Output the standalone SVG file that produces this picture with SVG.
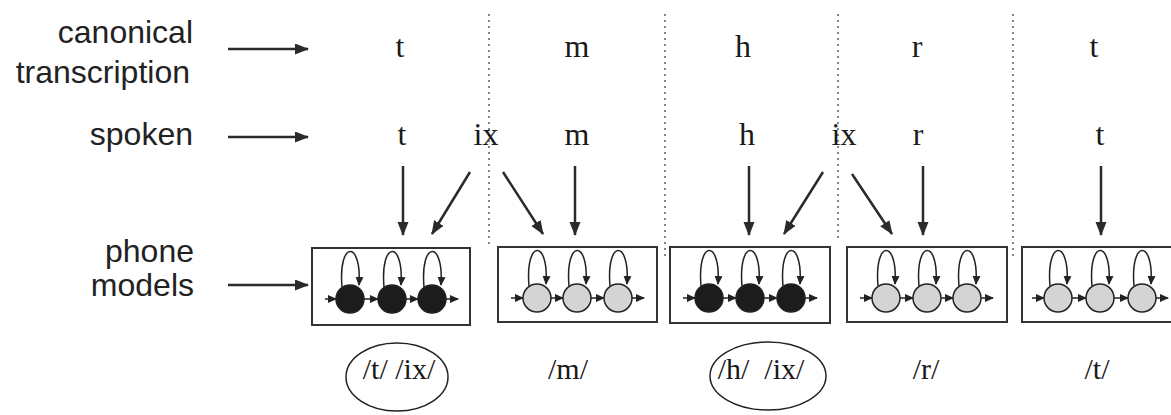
<svg xmlns="http://www.w3.org/2000/svg" width="1171" height="415" viewBox="0 0 1171 415">
<defs>
<style>
.lbl{font-family:"Liberation Sans",Arial,sans-serif;font-size:32px;fill:#222;text-anchor:end}
.ph{font-family:"Liberation Serif","Times New Roman",serif;font-size:32px;fill:#1a1a1a;text-anchor:middle}
.pl{font-family:"Liberation Serif","Times New Roman",serif;font-size:30px;fill:#1a1a1a;text-anchor:middle;white-space:pre}
.arr{stroke:#2a2a2a;stroke-width:2.5;fill:none;marker-end:url(#ah)}
.dot{stroke:#666;stroke-width:1.6;stroke-dasharray:2 4;fill:none}
.box{fill:#fff;stroke:#333;stroke-width:2}
.s{stroke:#222;stroke-width:1.5;fill:none;marker-end:url(#sh)}
.cd{fill:#1c1c1c;stroke:#222;stroke-width:1.5}
.cl{fill:#d4d4d4;stroke:#222;stroke-width:1.5}
.ell{fill:none;stroke:#222;stroke-width:1.5}
</style>
<marker id="ah" markerUnits="userSpaceOnUse" markerWidth="15" markerHeight="13" refX="13" refY="5.5" orient="auto"><path d="M0,0 L14,5.5 L0,11 z" fill="#2a2a2a"/></marker>
<marker id="sh" markerUnits="userSpaceOnUse" markerWidth="10" markerHeight="10" refX="8" refY="4" orient="auto"><path d="M0,0 L9,4 L0,8 z" fill="#222"/></marker>
</defs>
<rect width="1171" height="415" fill="#fff"/>

<g id="labels">
<text class="lbl" x="193" y="43">canonical</text>
<text class="lbl" x="190" y="83">transcription</text>
<text class="lbl" x="193" y="145">spoken</text>
<text class="lbl" x="194" y="262">phone</text>
<text class="lbl" x="194" y="296">models</text>
</g>

<g id="separators">
<line class="dot" x1="489" y1="14" x2="489" y2="248"/>
<line class="dot" x1="665" y1="14" x2="665" y2="258"/>
<line class="dot" x1="838" y1="14" x2="838" y2="240"/>
<line class="dot" x1="1013" y1="14" x2="1013" y2="256"/>
</g>

<g id="canonical">
<text class="ph" x="400" y="57">t</text>
<text class="ph" x="577" y="57">m</text>
<text class="ph" x="743" y="57">h</text>
<text class="ph" x="917" y="57">r</text>
<text class="ph" x="1094" y="57">t</text>
</g>

<g id="spoken">
<text class="ph" x="402" y="145">t</text>
<text class="ph" x="486" y="145">ix</text>
<text class="ph" x="577" y="145">m</text>
<text class="ph" x="747" y="145">h</text>
<text class="ph" x="844" y="145">ix</text>
<text class="ph" x="918" y="145">r</text>
<text class="ph" x="1100" y="145">t</text>
</g>

<g id="connectors">
<line class="arr" x1="228" y1="49" x2="308" y2="49"/>
<line class="arr" x1="228" y1="137" x2="308" y2="137"/>
<line class="arr" x1="228" y1="285" x2="308" y2="285"/>
<line class="arr" x1="403" y1="166" x2="403" y2="235"/>
<line class="arr" x1="470" y1="172" x2="432" y2="234"/>
<line class="arr" x1="503" y1="172" x2="543" y2="234"/>
<line class="arr" x1="575" y1="166" x2="575" y2="235"/>
<line class="arr" x1="749" y1="166" x2="749" y2="235"/>
<line class="arr" x1="823" y1="172" x2="784" y2="234"/>
<line class="arr" x1="852" y1="174" x2="892" y2="234"/>
<line class="arr" x1="923" y1="166" x2="923" y2="235"/>
<line class="arr" x1="1101" y1="166" x2="1101" y2="235"/>
</g>

<g id="model-t">
<rect class="box" x="312" y="248" width="158" height="77"/>
<line class="s" x1="325" y1="299" x2="336" y2="299"/>
<line class="s" x1="364" y1="299" x2="378" y2="299"/>
<line class="s" x1="406" y1="299" x2="418" y2="299"/>
<line class="s" x1="446" y1="299" x2="458" y2="299"/>
<circle class="cd" cx="350" cy="299" r="14"/><circle class="cd" cx="392" cy="299" r="14"/><circle class="cd" cx="432" cy="299" r="14"/>
<path class="s" d="M342,287 C338,240 362,240 359,285"/>
<path class="s" d="M384,287 C380,240 404,240 401,285"/>
<path class="s" d="M424,287 C420,240 444,240 441,285"/>
</g>

<g id="model-m">
<rect class="box" x="498" y="247" width="159" height="75"/>
<line class="s" x1="511" y1="298" x2="523" y2="298"/>
<line class="s" x1="551" y1="298" x2="563" y2="298"/>
<line class="s" x1="591" y1="298" x2="604" y2="298"/>
<line class="s" x1="632" y1="298" x2="644" y2="298"/>
<circle class="cl" cx="537" cy="298" r="14"/><circle class="cl" cx="577" cy="298" r="14"/><circle class="cl" cx="618" cy="298" r="14"/>
<path class="s" d="M529,286 C525,239 549,239 546,284"/>
<path class="s" d="M569,286 C565,239 589,239 586,284"/>
<path class="s" d="M610,286 C606,239 630,239 627,284"/>
</g>

<g id="model-h">
<rect class="box" x="670" y="247" width="160" height="76"/>
<line class="s" x1="683" y1="298" x2="695" y2="298"/>
<line class="s" x1="723" y1="298" x2="736" y2="298"/>
<line class="s" x1="764" y1="298" x2="777" y2="298"/>
<line class="s" x1="805" y1="298" x2="817" y2="298"/>
<circle class="cd" cx="709" cy="298" r="14"/><circle class="cd" cx="750" cy="298" r="14"/><circle class="cd" cx="791" cy="298" r="14"/>
<path class="s" d="M701,286 C697,239 721,239 718,284"/>
<path class="s" d="M742,286 C738,239 762,239 759,284"/>
<path class="s" d="M783,286 C779,239 803,239 800,284"/>
</g>

<g id="model-r">
<rect class="box" x="847" y="247" width="160" height="75"/>
<line class="s" x1="860" y1="298" x2="872" y2="298"/>
<line class="s" x1="900" y1="298" x2="913" y2="298"/>
<line class="s" x1="941" y1="298" x2="953" y2="298"/>
<line class="s" x1="981" y1="298" x2="993" y2="298"/>
<circle class="cl" cx="886" cy="298" r="14"/><circle class="cl" cx="927" cy="298" r="14"/><circle class="cl" cx="967" cy="298" r="14"/>
<path class="s" d="M878,286 C874,239 898,239 895,284"/>
<path class="s" d="M919,286 C915,239 939,239 936,284"/>
<path class="s" d="M959,286 C955,239 979,239 976,284"/>
</g>

<g id="model-t2">
<rect class="box" x="1022" y="247" width="160" height="75"/>
<line class="s" x1="1032" y1="298" x2="1044" y2="298"/>
<line class="s" x1="1072" y1="298" x2="1086" y2="298"/>
<line class="s" x1="1114" y1="298" x2="1128" y2="298"/>
<line class="s" x1="1156" y1="298" x2="1168" y2="298"/>
<circle class="cl" cx="1058" cy="298" r="14"/><circle class="cl" cx="1100" cy="298" r="14"/><circle class="cl" cx="1142" cy="298" r="14"/>
<path class="s" d="M1050,286 C1046,239 1070,239 1067,284"/>
<path class="s" d="M1092,286 C1088,239 1112,239 1109,284"/>
<path class="s" d="M1134,286 C1130,239 1154,239 1151,284"/>
</g>

<g id="unit-t-ix">
<ellipse class="ell" cx="397" cy="377" rx="51" ry="34"/>
<text class="pl" x="399" y="379">/t/ /ix/</text>
</g>
<g id="unit-m"><text class="pl" x="568" y="379">/m/</text></g>
<g id="unit-h-ix">
<ellipse class="ell" cx="768" cy="376" rx="58" ry="34"/>
<text class="pl" x="761" y="379">/h/  /ix/</text>
</g>
<g id="unit-r"><text class="pl" x="926" y="379">/r/</text></g>
<g id="unit-t"><text class="pl" x="1097" y="379">/t/</text></g>
</svg>
